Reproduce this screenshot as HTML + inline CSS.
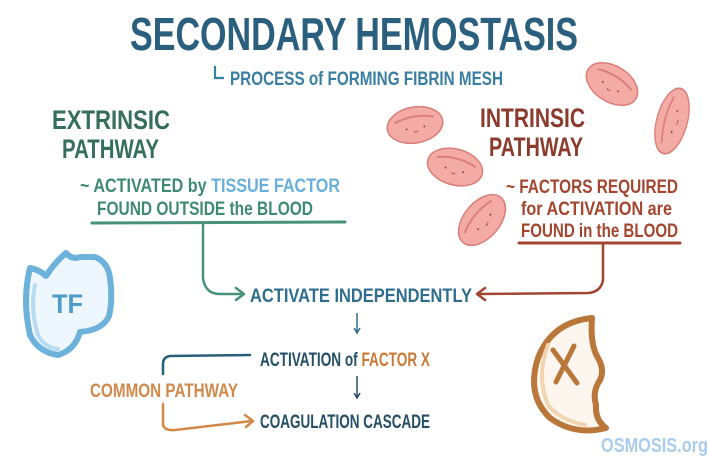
<!DOCTYPE html>
<html><head><meta charset="utf-8"><style>
html,body{margin:0;padding:0;background:#fff;width:708px;height:464px;overflow:hidden}
svg{display:block}
text{font-family:"Liberation Sans Narrow","Liberation Sans",sans-serif;font-weight:bold}
</style></head><body>
<svg width="708" height="464" viewBox="0 0 708 464" xmlns="http://www.w3.org/2000/svg">
<defs>
<g id="rbc">
<ellipse cx="0" cy="0" rx="28" ry="18" fill="#f4aaa5" stroke="#d97e78" stroke-width="1.5"/>
<path d="M-20,-5 Q0,-12 20,-5" stroke="#d9807a" stroke-width="2" fill="none"/>
<circle cx="-9" cy="3" r="1" fill="#9a4a45"/><circle cx="9" cy="3" r="1" fill="#9a4a45"/>
<path d="M-2,6 Q0,8 2,6" stroke="#9a4a45" stroke-width="0.8" fill="none"/>
</g>
</defs>
<text x="130" y="50" font-size="46" fill="#2b5f7e" textLength="448" lengthAdjust="spacingAndGlyphs">SECONDARY HEMOSTASIS</text>
<path d="M215,66 L215,78 L224,78" stroke="#3a7ea1" stroke-width="2.2" fill="none"/>
<text x="230" y="85" font-size="19" fill="#3a7ea1" textLength="273" lengthAdjust="spacingAndGlyphs">PROCESS of FORMING FIBRIN MESH</text>
<use href="#rbc" transform="translate(415,125) rotate(-10)"/>
<use href="#rbc" transform="translate(455,167) rotate(15)"/>
<use href="#rbc" transform="translate(482,220) rotate(-50) scale(1.05,1)"/>
<use href="#rbc" transform="translate(612,84) rotate(32)"/>
<use href="#rbc" transform="translate(672,121) rotate(-75) scale(1.2,0.85)"/>
<text x="52" y="129" font-size="27" fill="#356e5c" textLength="118" lengthAdjust="spacingAndGlyphs">EXTRINSIC</text>
<text x="62" y="158" font-size="27" fill="#356e5c" textLength="97" lengthAdjust="spacingAndGlyphs">PATHWAY</text>
<text x="80" y="192" font-size="19" fill="#3f8a71" textLength="260" lengthAdjust="spacingAndGlyphs">~ ACTIVATED by <tspan fill="#68b0db">TISSUE FACTOR</tspan></text>
<text x="97" y="215" font-size="19" fill="#3f8a71" textLength="216" lengthAdjust="spacingAndGlyphs">FOUND OUTSIDE the BLOOD</text>
<path d="M92,223 L345,222" stroke="#4a917a" stroke-width="3" stroke-linecap="round"/>
<path d="M203,223 L203,278 Q205,294 220,294 L242,294" stroke="#4a917a" stroke-width="2.5" fill="none" stroke-linecap="round"/>
<path d="M236,288 L244,294 L236,300" stroke="#4a917a" stroke-width="2.5" fill="none" stroke-linecap="round" stroke-linejoin="round"/>
<text x="480" y="127" font-size="27" fill="#8b3a2b" textLength="105" lengthAdjust="spacingAndGlyphs">INTRINSIC</text>
<text x="489" y="156" font-size="27" fill="#8b3a2b" textLength="94" lengthAdjust="spacingAndGlyphs">PATHWAY</text>
<text x="506" y="193" font-size="19" fill="#a3462f" textLength="172" lengthAdjust="spacingAndGlyphs">~ FACTORS REQUIRED</text>
<text x="521" y="215" font-size="19" fill="#a3462f" textLength="151" lengthAdjust="spacingAndGlyphs">for ACTIVATION are</text>
<text x="521" y="237" font-size="19" fill="#a3462f" textLength="157" lengthAdjust="spacingAndGlyphs">FOUND in the BLOOD</text>
<path d="M519,243 L680,243" stroke="#a3462f" stroke-width="3" stroke-linecap="round"/>
<path d="M603,244 L603,280 Q601,292 588,293 L478,294" stroke="#a3462f" stroke-width="2.5" fill="none" stroke-linecap="round"/>
<path d="M485,288 L477,294 L485,300" stroke="#a3462f" stroke-width="2.5" fill="none" stroke-linecap="round" stroke-linejoin="round"/>
<text x="250" y="302" font-size="19" fill="#2f6d8f" textLength="222" lengthAdjust="spacingAndGlyphs">ACTIVATE INDEPENDENTLY</text>
<path d="M357,313 L357,332 M354,328 L357,333 L360,328" stroke="#2f6d8f" stroke-width="1.5" fill="none"/>
<text x="260" y="366" font-size="19" fill="#254f65" textLength="170" lengthAdjust="spacingAndGlyphs">ACTIVATION of <tspan fill="#c97a35">FACTOR X</tspan></text>
<path d="M357,376 L357,397 M354,393 L357,398 L360,393" stroke="#254f65" stroke-width="1.5" fill="none"/>
<text x="260" y="428" font-size="19" fill="#254f65" textLength="170" lengthAdjust="spacingAndGlyphs">COAGULATION CASCADE</text>
<text x="90" y="397" font-size="19" fill="#d0894a" textLength="148" lengthAdjust="spacingAndGlyphs">COMMON PATHWAY</text>
<path d="M250,355 L170,356 Q163,357 163,364 L163,374" stroke="#2a5f7a" stroke-width="2.5" fill="none" stroke-linecap="round"/>
<path d="M163,404 L163,425 Q165,431 175,430 L252,421" stroke="#d0894a" stroke-width="2.5" fill="none" stroke-linecap="round"/>
<path d="M245,415 L253,421 L246,427" stroke="#d0894a" stroke-width="2.5" fill="none" stroke-linecap="round" stroke-linejoin="round"/>
<path d="M30,268 Q40,270 46,276 Q55,262 66,253 Q72,260 80,257 L95,257 Q108,262 110,278 Q113,300 109,316 Q103,330 80,332 Q75,350 58,355 Q38,352 30,335 Q22,300 30,268 Z" fill="#eef7fd" stroke="#6cb2da" stroke-width="6" stroke-linejoin="round"/>
<path d="M35,285 Q30,310 38,335 Q45,348 58,349" stroke="#b7dbf0" stroke-width="4" fill="none" stroke-linecap="round"/>
<text x="52" y="313" font-size="27" fill="#4f9ccb" textLength="31" lengthAdjust="spacingAndGlyphs">TF</text>
<path d="M592,318 Q552,322 538,358 Q526,395 550,418 Q575,436 606,428 Q595,420 596,405 Q592,392 600,380 Q605,370 598,358 Q590,345 592,318 Z" fill="#fdf6ee" stroke="#b9773a" stroke-width="6" stroke-linejoin="round"/>
<path d="M548,345 Q536,375 548,405 Q560,420 585,425" stroke="#f0d5b0" stroke-width="4" fill="none" stroke-linecap="round"/>
<path d="M553,350 L577,383 M574,346 L556,382" stroke="#b9773a" stroke-width="5" stroke-linecap="round"/>
<text x="601" y="452" font-size="20" fill="#a9cdeb" textLength="107" lengthAdjust="spacingAndGlyphs">OSMOSIS.org</text>
</svg>
</body></html>
